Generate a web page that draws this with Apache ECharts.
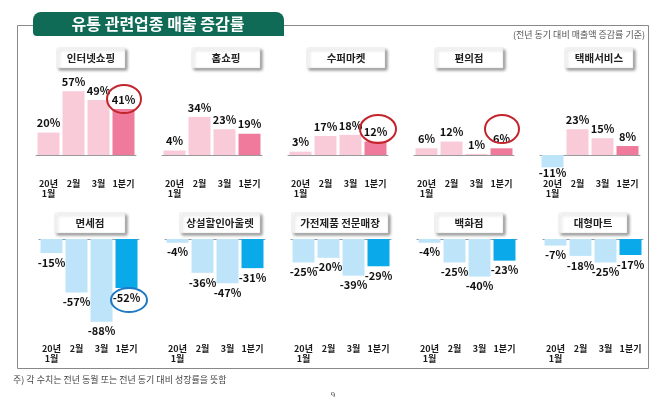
<!DOCTYPE html>
<html>
<head>
<meta charset="utf-8">
<title>유통 관련업종 매출 증감률</title>
<script src="https://cdn.jsdelivr.net/npm/echarts@6.0.0/dist/echarts.min.js"></script>
<style>
html,body{margin:0;padding:0;background:#fff;}
#main{width:666px;height:397px;}
</style>
</head>
<body>
<div id="main"></div>
<script>
// 데이터
var categories = ['20년\n1월', '2월', '3월', '1분기'];
var topNames = ['인터넷쇼핑', '홈쇼핑', '수퍼마켓', '편의점', '택배서비스'];
var topValues = [
    [20, 57, 49, 41],
    [4, 34, 23, 19],
    [3, 17, 18, 12],
    [6, 12, 1, 6],
    [-11, 23, 15, 8]
];
var bottomNames = ['면세점', '상설할인아울렛', '가전제품 전문매장', '백화점', '대형마트'];
var bottomValues = [
    [-15, -57, -88, -52],
    [-4, -36, -47, -31],
    [-25, -20, -39, -29],
    [-4, -25, -40, -23],
    [-7, -18, -25, -17]
];

var FONT = '"Noto Sans CJK KR", "Noto Sans", sans-serif';
var pinkLight = '#f9cad8', pinkDark = '#ef7a9b';
var blueLight = '#bee4fa', blueDark = '#0aa9e9';

// 행별 배치
var rows = [
    {left: 36, top: 43, height: 134.4, min: -20, max: 100, margin: 1, negDist: 0, boxY: 48,
     boxes: [[57, 68], [192, 68], [307, 78], [435, 68], [565, 68]]},
    {left: 39, top: 239, height: 94, min: -100, max: 0, margin: 11, negDist: 4, boxY: 213,
     boxes: [[55, 70], [180, 80], [292, 96], [435, 68], [559, 68]]}
];

var grids = [], xAxes = [], yAxes = [], series = [];
var graphics = [];

// 바깥 테두리
graphics.push({
    type: 'rect', z: 1,
    shape: {x: 17.5, y: 25.5, width: 631, height: 343},
    style: {fill: 'none', stroke: '#888', lineWidth: 1}
});
// 제목 박스
graphics.push({
    type: 'rect', z: 5,
    shape: {x: 33, y: 12, width: 251, height: 24, r: [8, 8, 0, 4]},
    style: {fill: '#0f6b55'}
});
graphics.push({
    type: 'text', z: 6, x: 158, y: 24,
    style: {text: '유통 관련업종 매출 증감률', fill: '#fff', font: 'bold 16px ' + FONT,
            textAlign: 'center', textVerticalAlign: 'middle'}
});
graphics.push({
    type: 'text', z: 6, x: 645, y: 35,
    style: {text: '(전년 동기 대비 매출액 증감률 기준)', fill: '#555', font: '9px ' + FONT,
            textAlign: 'right', textVerticalAlign: 'middle'}
});
graphics.push({
    type: 'text', z: 6, x: 13, y: 380,
    style: {text: '주) 각 수치는 전년 동월 또는 전년 동기 대비 성장률을 뜻함', fill: '#444', font: '9px ' + FONT,
            textAlign: 'left', textVerticalAlign: 'middle'}
});
graphics.push({
    type: 'text', z: 6, x: 333, y: 395,
    style: {text: '9', fill: '#444', font: '8px ' + FONT,
            textAlign: 'center', textVerticalAlign: 'middle'}
});

function addPanel(r, col, name, values) {
    var row = rows[r];
    var idx = grids.length;
    grids.push({left: row.left + 126 * col, top: row.top, width: 100, height: row.height,
                outerBoundsMode: 'none', containLabel: false});
    xAxes.push({
        gridIndex: idx, type: 'category', data: categories,
        axisLine: {onZero: true, lineStyle: {color: '#999'}},
        axisTick: {length: 3, lineStyle: {color: '#999'}},
        axisLabel: {interval: 0, margin: row.margin, fontSize: 9, fontWeight: 'bold',
                    color: '#1a1a1a', lineHeight: 10, fontFamily: FONT}
    });
    yAxes.push({gridIndex: idx, type: 'value', min: row.min, max: row.max, show: false});
    var data = [];
    for (var i = 0; i < values.length; i++) {
        var v = values[i];
        var last = i == values.length - 1;
        var color = v < 0 ? (last ? blueDark : blueLight) : (last ? pinkDark : pinkLight);
        data.push({
            value: v,
            itemStyle: {color: color},
            label: {position: v < 0 ? 'bottom' : 'top', distance: v < 0 ? row.negDist : 4}
        });
    }
    series.push({
        type: 'bar', xAxisIndex: idx, yAxisIndex: idx,
        barWidth: 22, data: data,
        label: {show: true, formatter: '{c}%', fontSize: 11, fontWeight: 'bold',
                color: '#111', fontFamily: FONT},
        emphasis: {disabled: true}
    });
    // 패널 제목 박스
    var b = row.boxes[col];
    graphics.push({
        type: 'rect', z: 5,
        shape: {x: b[0], y: row.boxY, width: b[1], height: 20},
        style: {fill: '#fff', stroke: '#ddd', lineWidth: 0.5, shadowBlur: 3,
                shadowColor: 'rgba(0,0,0,0.45)', shadowOffsetX: 2, shadowOffsetY: 2}
    });
    graphics.push({
        type: 'text', z: 6, x: b[0] + b[1] / 2, y: row.boxY + 10,
        style: {text: name, fill: '#222', font: 'bold 10.5px ' + FONT,
                textAlign: 'center', textVerticalAlign: 'middle'}
    });
}

for (var c = 0; c < 5; c++) addPanel(0, c, topNames[c], topValues[c]);
for (var c = 0; c < 5; c++) addPanel(1, c, bottomNames[c], bottomValues[c]);

// 강조 동그라미
var circles = [[124, 99, 17, 14, '#c4242c'], [378, 129, 18, 14, '#c4242c'],
               [502, 129, 17, 14, '#c4242c'], [129, 300, 18, 12, '#1f78c1']];
for (var k = 0; k < circles.length; k++) {
    graphics.push({
        type: 'ellipse', z: 10,
        shape: {cx: circles[k][0], cy: circles[k][1], rx: circles[k][2], ry: circles[k][3]},
        style: {fill: 'none', stroke: circles[k][4], lineWidth: 2}
    });
}

var myChart = echarts.init(document.getElementById('main'));
myChart.setOption({
    animation: false,
    grid: grids,
    xAxis: xAxes,
    yAxis: yAxes,
    series: series,
    graphic: graphics
});
</script>
</body>
</html>
